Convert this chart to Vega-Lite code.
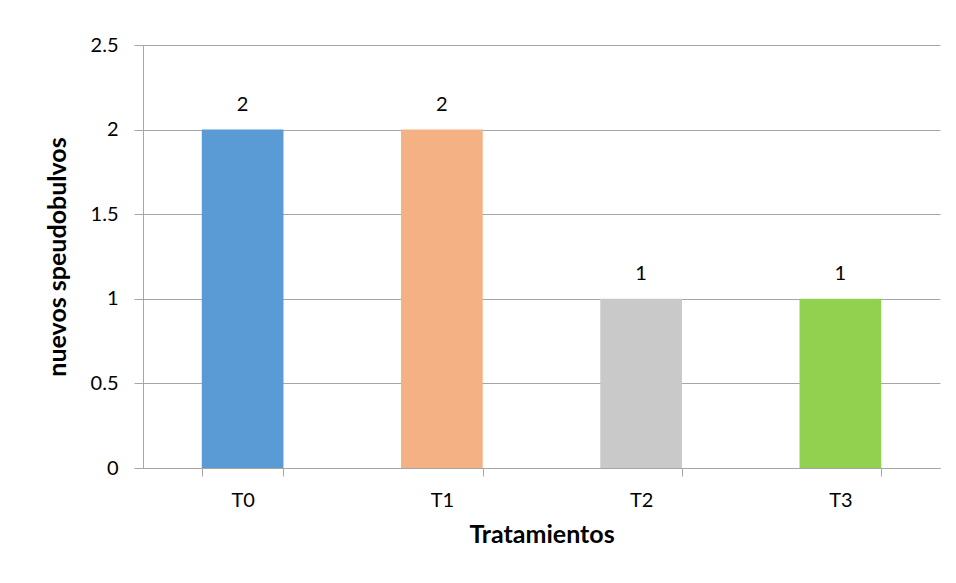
{
  "$schema": "https://vega.github.io/schema/vega-lite/v6.json",
  "width": 797,
  "height": 423,
  "autosize": {"type": "none"},
  "padding": {"left": 143, "top": 45, "right": 16, "bottom": 115},
  "background": "white",
  "config": {
    "font": "Lato",
    "view": {"stroke": null},
    "axis": {"labelFont": "Lato", "titleFont": "Lato", "labelColor": "#000000", "titleColor": "#000000", "domainColor": "#a6a6a6", "tickColor": "#a6a6a6", "gridColor": "#a6a6a6", "labelFontSize": 20, "titleFontSize": 25, "titleFontWeight": "bold"}
  },
  "data": {
    "values": [
      {"trat": "T0", "valor": 2, "color": "#5b9bd5"},
      {"trat": "T1", "valor": 2, "color": "#f4b183"},
      {"trat": "T2", "valor": 1, "color": "#c9c9c9"},
      {"trat": "T3", "valor": 1, "color": "#92d050"}
    ]
  },
  "encoding": {
    "x": {
      "field": "trat", "type": "nominal", "sort": null,
      "scale": {"paddingInner": 0.59, "paddingOuter": 0.295},
      "axis": {"title": "Tratamientos", "labelAngle": 0, "tickBand": "extent", "tickSize": 8, "labelPadding": 14, "titlePadding": 12, "grid": false}
    },
    "y": {
      "field": "valor", "type": "quantitative",
      "scale": {"domain": [0, 2.5]},
      "axis": {"title": "nuevos speudobulvos", "values": [0, 0.5, 1, 1.5, 2, 2.5], "format": "~g", "tickSize": 9, "labelPadding": 16, "titlePadding": 20, "grid": true}
    }
  },
  "layer": [
    {"mark": {"type": "bar"}, "encoding": {"color": {"field": "color", "type": "nominal", "scale": null}}},
    {"mark": {"type": "text", "dy": -25, "fontSize": 20, "font": "Lato", "color": "#000000"}, "encoding": {"text": {"field": "valor", "type": "quantitative"}}}
  ]
}
